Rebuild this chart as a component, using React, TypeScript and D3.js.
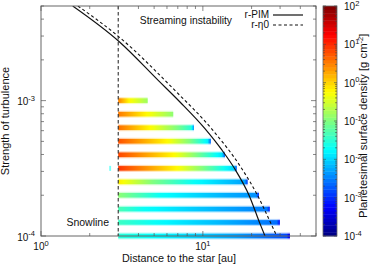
import React from "react";
import * as d3 from "d3";

// ---------- data ----------
const xDomain: [number, number] = [1, 50];
const yDomain: [number, number] = [1e-4, 5e-3];
const sigmaDomain: [number, number] = [1e-4, 1e2];

const xTickLabels = [
  { v: 1, exp: "0" },
  { v: 10, exp: "1" },
];
const yTickLabels = [
  { v: 1e-4, exp: "-4" },
  { v: 1e-3, exp: "-3" },
];
const cbTickLabels = [
  { v: 1e2, exp: "2" },
  { v: 1e1, exp: "1" },
  { v: 1e0, exp: "0" },
  { v: 1e-1, exp: "-1" },
  { v: 1e-2, exp: "-2" },
  { v: 1e-3, exp: "-3" },
  { v: 1e-4, exp: "-4" },
];

const snowline = 3.0;

// turbulence strength of each simulated disk (rows of bars)
const alphaLevels = [1e-3, 7.94e-4, 6.31e-4, 5.01e-4, 3.98e-4, 3.16e-4, 2.51e-4, 2.0e-4, 1.58e-4, 1.26e-4, 1.0e-4];

// planetesimal surface density along each row: [r (au), sigma (g cm^-2)]
const barProfiles: [number, number][][] = [
  [[3.0, 3.2], [3.5, 0.6], [4.56, 0.15]],
  [[3.0, 3.5], [4.5, 0.6], [6.56, 0.12]],
  [[3.0, 4], [4.7, 0.6], [6.9, 0.1], [8.45, 0.03], [8.81, 0.004]],
  [[3.0, 6], [6.0, 0.6], [8.3, 0.1], [10.7, 0.015], [11.2, 0.002]],
  [[3.0, 7], [6.6, 0.6], [9.1, 0.1], [13.1, 0.012], [13.7, 0.002]],
  [[3.0, 9], [6.9, 0.6], [10, 0.1], [15.5, 0.01], [16.2, 0.002]],
  [[3.0, 0.7], [4.9, 0.1], [8.7, 0.02], [18.1, 0.005], [18.9, 0.0012]],
  [[3.0, 0.12], [5.4, 0.02], [14, 0.006], [21.3, 0.004], [22.2, 0.001]],
  [[3.0, 0.05], [4.3, 0.02], [12.7, 0.006], [24.8, 0.003], [25.9, 0.0008]],
  [[3.0, 0.04], [5, 0.02], [14, 0.006], [28.6, 0.0025], [29.9, 0.0006]],
  [[3.0, 0.03], [6, 0.015], [16, 0.005], [33, 0.0015], [34.5, 0.0003]],
];

// isolated patch inside the snowline
const strayPatch = { r0: 2.64, r1: 2.71, alpha: 3.16e-4, sigma: 0.02 };

// streaming instability thresholds: [r (au), alpha]
const pimCurve: [number, number][] = [
  [1.57, 5e-3], [3.07, 2.7e-3], [5.3, 1.41e-3], [7.22, 9.77e-4], [10.3, 6.21e-4],
  [13.1, 4.32e-4], [15.8, 3.11e-4], [19.4, 1.97e-4], [22.5, 1.24e-4], [24.2, 1e-4],
];
const eta0Curve: [number, number][] = [
  [1.69, 5e-3], [3.07, 2.92e-3], [6.72, 1.19e-3], [11.3, 6.21e-4], [17.5, 3.11e-4],
  [21.9, 1.97e-4], [26.3, 1.24e-4], [28.6, 1e-4],
];

// ---------- layout ----------
const W = 374;
const H = 270;
const L = 41, R = 316, T = 6, B = 236;
const CB_L = 323, CB_R = 337;
const FONT = "'Liberation Sans', Arial, Helvetica, sans-serif";

const x = d3.scaleLog().domain(xDomain).range([L, R]);
const y = d3.scaleLog().domain(yDomain).range([B, T]);
const cb = d3.scaleLog().domain(sigmaDomain).range([B, T]);

const clamp = (v: number) => Math.max(0, Math.min(1, v));
function jet(t: number) {
  t = clamp(t);
  const r = clamp(1.5 - Math.abs(4 * t - 3));
  const g = clamp(1.5 - Math.abs(4 * t - 2));
  const b = clamp(1.5 - Math.abs(4 * t - 1));
  return `rgb(${Math.round(r * 255)},${Math.round(g * 255)},${Math.round(b * 255)})`;
}
const lo = Math.log10(sigmaDomain[0]);
const hi = Math.log10(sigmaDomain[1]);
const sigmaColor = (s: number) => jet((Math.log10(s) - lo) / (hi - lo));

function gradientStops(prof: [number, number][]) {
  const x0 = x(prof[0][0]);
  const x1 = x(prof[prof.length - 1][0]);
  const stops: { off: number; color: string }[] = [];
  const N = 6;
  for (let i = 0; i < prof.length - 1; i++) {
    const [ra, sa] = prof[i];
    const [rb, sb] = prof[i + 1];
    for (let k = 0; k < N; k++) {
      const f = k / N;
      const lr = Math.log10(ra) + f * (Math.log10(rb) - Math.log10(ra));
      const ls = Math.log10(sa) + f * (Math.log10(sb) - Math.log10(sa));
      stops.push({ off: (x(10 ** lr) - x0) / (x1 - x0), color: sigmaColor(10 ** ls) });
    }
  }
  const last = prof[prof.length - 1];
  stops.push({ off: 1, color: sigmaColor(last[1]) });
  return { x0, x1, stops };
}

const Pow = ({ exp }: { exp: string }) => (
  <>
    10
    <tspan dy={-4.5} fontSize={7.5}>
      {exp}
    </tspan>
  </>
);

export default function App() {
  const line = d3
    .line<[number, number]>()
    .x((d) => x(d[0]))
    .y((d) => y(d[1]))
    .curve(d3.curveMonotoneX);

  const xt = x.ticks();
  const yt = y.ticks();
  const ct = cb.ticks();
  const isMajor = (v: number) => Math.abs(Math.log10(v) - Math.round(Math.log10(v))) < 1e-6;
  const tickColor = "#555";

  const nBands = 64;
  const bandH = (B - T) / nBands;

  return (
    <svg
      width={W}
      height={H}
      style={{ position: "absolute", left: 0, top: 0, background: "#fff" }}
      fontFamily={FONT}
    >
      <defs>
        <clipPath id="plotClip">
          <rect x={L} y={T} width={R - L} height={B - T} />
        </clipPath>
        {barProfiles.map((prof, i) => {
          const g = gradientStops(prof);
          return (
            <linearGradient
              key={i}
              id={`bar${i}`}
              gradientUnits="userSpaceOnUse"
              x1={g.x0}
              x2={g.x1}
              y1={0}
              y2={0}
            >
              {g.stops.map((s, j) => (
                <stop key={j} offset={s.off} stopColor={s.color} />
              ))}
            </linearGradient>
          );
        })}
      </defs>

      {/* bars */}
      {barProfiles.map((prof, i) => {
        const x0 = x(prof[0][0]);
        const x1 = x(prof[prof.length - 1][0]);
        const yc = y(alphaLevels[i]);
        return (
          <g key={i}>
            <rect x={x0} y={yc - 3.5} width={x1 - x0} height={7} fill={`url(#bar${i})`} opacity={0.3} />
            <rect x={x0} y={yc - 2.3} width={x1 - x0} height={4.6} fill={`url(#bar${i})`} />
          </g>
        );
      })}
      <rect
        x={x(strayPatch.r0)}
        y={y(strayPatch.alpha) - 2.5}
        width={x(strayPatch.r1) - x(strayPatch.r0)}
        height={5}
        fill={sigmaColor(strayPatch.sigma)}
        opacity={0.55}
      />

      {/* snowline */}
      <line
        x1={x(snowline)}
        x2={x(snowline)}
        y1={T}
        y2={B}
        stroke="#333"
        strokeWidth={1.1}
        strokeDasharray="3.5,2.5"
      />

      {/* SI curves */}
      <g clipPath="url(#plotClip)">
        <path d={line(pimCurve) || ""} fill="none" stroke="#111" strokeWidth={1.2} />
        <path d={line(eta0Curve) || ""} fill="none" stroke="#111" strokeWidth={1.1} strokeDasharray="3,2.5" />
      </g>

      {/* frame */}
      <rect x={L} y={T} width={R - L} height={B - T} fill="none" stroke="#666" strokeWidth={1} />

      {/* ticks */}
      {xt.map((v, i) => {
        const len = isMajor(v) ? 5 : 3;
        const px = x(v);
        return (
          <g key={`xt${i}`} stroke={tickColor} strokeWidth={0.7}>
            <line x1={px} x2={px} y1={B} y2={B - len} />
            <line x1={px} x2={px} y1={T} y2={T + len} />
          </g>
        );
      })}
      {yt.map((v, i) => {
        const len = isMajor(v) ? 5 : 3;
        const py = y(v);
        return (
          <g key={`yt${i}`} stroke={tickColor} strokeWidth={0.7}>
            <line x1={L} x2={L + len} y1={py} y2={py} />
            <line x1={R} x2={R - len} y1={py} y2={py} />
          </g>
        );
      })}

      {/* tick labels */}
      {xTickLabels.map((t, i) => (
        <text key={`xl${i}`} x={x(t.v)} y={250} fontSize={10} textAnchor="middle" fill="#111">
          <Pow exp={t.exp} />
        </text>
      ))}
      {yTickLabels.map((t, i) => (
        <text key={`yl${i}`} x={35} y={y(t.v) + 4.5} fontSize={10} textAnchor="end" fill="#111">
          <Pow exp={t.exp} />
        </text>
      ))}

      {/* axis titles */}
      <text x={179} y={262} fontSize={10.8} textAnchor="middle" fill="#111">
        Distance to the star [au]
      </text>
      <text transform="translate(9,121) rotate(-90)" fontSize={11} textAnchor="middle" fill="#111">
        Strength of turbulence
      </text>

      {/* annotations */}
      <text x={109} y={225.5} fontSize={10.5} textAnchor="end" fill="#111">
        Snowline
      </text>
      <text x={232} y={23.5} fontSize={10.3} textAnchor="end" fill="#111">
        Streaming instability
      </text>
      <text x={269} y={18} fontSize={10} textAnchor="end" fill="#111">
        r-PIM
      </text>
      <text x={269} y={27.5} fontSize={10} textAnchor="end" fill="#111">
        r-η0
      </text>
      <line x1={273} x2={303} y1={15} y2={15} stroke="#111" strokeWidth={1.2} />
      <line x1={273} x2={303} y1={25} y2={25} stroke="#111" strokeWidth={1.1} strokeDasharray="3,2.5" />

      {/* colorbar */}
      {d3.range(nBands).map((k) => (
        <rect
          key={`cb${k}`}
          x={CB_L}
          y={B - (k + 1) * bandH}
          width={CB_R - CB_L}
          height={bandH + 0.4}
          fill={jet((k + 0.5) / nBands)}
        />
      ))}
      <rect x={CB_L} y={T} width={CB_R - CB_L} height={B - T} fill="none" stroke="#666" strokeWidth={0.8} />
      {ct.map((v, i) => {
        const len = isMajor(v) ? 3 : 2;
        const py = cb(v);
        return (
          <g key={`ct${i}`} stroke="#444" strokeWidth={0.6}>
            <line x1={CB_L} x2={CB_L + len} y1={py} y2={py} />
            <line x1={CB_R} x2={CB_R - len} y1={py} y2={py} />
          </g>
        );
      })}
      {cbTickLabels.map((t, i) => (
        <text key={`cl${i}`} x={344} y={cb(t.v) + 4} fontSize={10} textAnchor="start" fill="#111">
          <Pow exp={t.exp} />
        </text>
      ))}
      <text transform="translate(367,218) rotate(-90)" fontSize={11.3} textAnchor="start" fill="#111">
        Planetesimal surface density [g cm
        <tspan dy={-4} fontSize={7.5}>
          -2
        </tspan>
        <tspan dy={4}>]</tspan>
      </text>
    </svg>
  );
}
